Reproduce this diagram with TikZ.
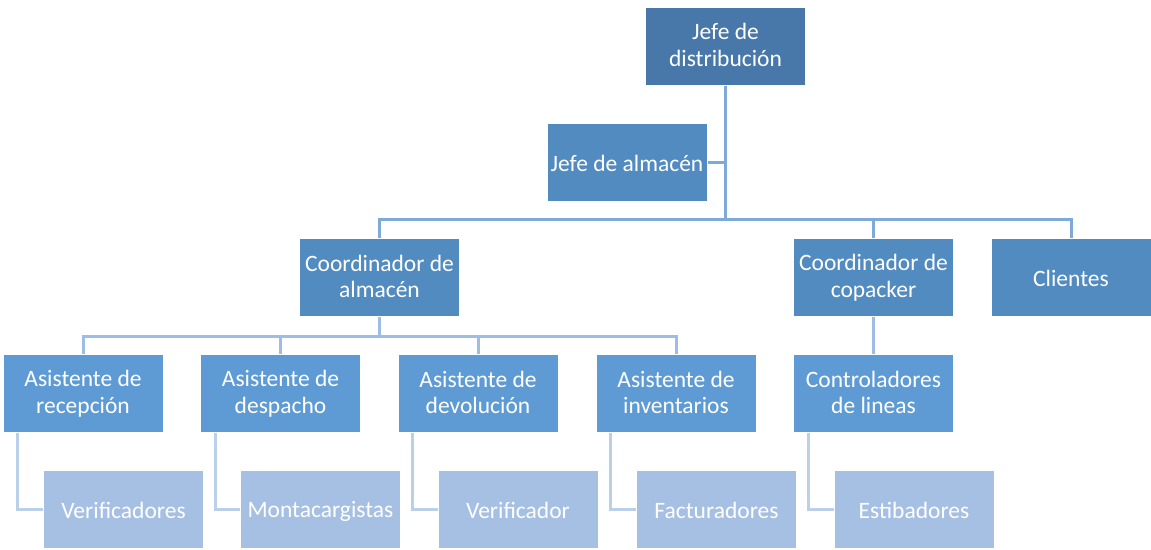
\documentclass[tikz,border=0pt]{standalone}
\usepackage{fontspec}
\setmainfont{Carlito}
\pgfdeclarelayer{bg}
\pgfsetlayers{bg,main}
\definecolor{cTop}{HTML}{4778A9}
\definecolor{cLvA}{HTML}{518BC0}
\definecolor{cLvB}{HTML}{5E9BD5}
\definecolor{cLvC}{HTML}{A5C0E3}
\definecolor{lnA}{HTML}{7EA9DB}
\definecolor{lnB}{HTML}{9DBDE6}
\definecolor{lnC}{HTML}{BACFEA}
\newcommand{\mystrut}{\rule[-2pt]{0pt}{22pt}}
\begin{document}
\begin{tikzpicture}[x=1pt,y=-1pt,
  boxbase/.style={rectangle, draw=white, line width=0.8pt, text=white, align=center,
    minimum width=160pt, minimum height=78pt, inner sep=1pt,
    font=\fontsize{23.5}{26.5}\selectfont,
    execute at begin node=\mystrut, execute at end node=\mystrut},
  toprole/.style={boxbase, fill=cTop},
  lvla/.style={boxbase, fill=cLvA},
  lvlb/.style={boxbase, fill=cLvB},
  lvlc/.style={boxbase, fill=cLvC},
  conna/.style={draw=lnA, line width=3pt},
  connb/.style={draw=lnB, line width=3pt},
  connc/.style={draw=lnC, line width=3pt}]
\useasboundingbox (0,0) rectangle (1151,549);
% nodes
\node[toprole] (top) at (725.5,46) {Jefe de\\distribución};
\node[lvla] (jalm) at (627,162) {Jefe de almacén};
\node[lvla] (calm) at (379.5,277.5) {Coordinador de\\almacén};
\node[lvla] (ccop) at (873.5,277.5) {Coordinador de\\copacker};
\node[lvla] (cli) at (1071,277.5) {Clientes};
\node[lvlb] (a1) at (83,393.5) {Asistente de\\recepción};
\node[lvlb] (a2) at (280.5,393.5) {Asistente de\\despacho};
\node[lvlb] (a3) at (478,393.5) {Asistente de\\devolución};
\node[lvlb] (a4) at (676,393.5) {Asistente de\\inventarios};
\node[lvlb] (ctl) at (873.5,393.5) {Controladores\\de lineas};
\node[lvlc] (v1) at (123.5,509.5) {Verificadores};
\node[lvlc] (v2) at (320.5,509.5) {Montacargistas};
\node[lvlc] (v3) at (518,509.5) {Verificador};
\node[lvlc] (v4) at (716.5,509.5) {Facturadores};
\node[lvlc] (v5) at (914,509.5) {Estibadores};
\coordinate (busa) at (0,219.5);
\coordinate (busb) at (0,336.5);
\begin{pgfonlayer}{bg}
\draw[conna] (top.south) -- (top.south |- busa);
\draw[conna] (jalm.east) -- (jalm.east -| top.south);
\draw[conna] (calm.north) -- (calm.north |- busa) -- (cli.north |- busa) -- (cli.north);
\draw[conna] (ccop.north) -- (ccop.north |- busa);
\draw[connb] (calm.south) -- (calm.south |- busb);
\draw[connb] (a1.north) -- (a1.north |- busb) -- (a4.north |- busb) -- (a4.north);
\draw[connb] (a2.north) -- (a2.north |- busb);
\draw[connb] (a3.north) -- (a3.north |- busb);
\draw[connb] (ccop.south) -- (ctl.north);
\draw[connc] ([xshift=15pt]a1.south west) |- (v1.west);
\draw[connc] ([xshift=15pt]a2.south west) |- (v2.west);
\draw[connc] ([xshift=15pt]a3.south west) |- (v3.west);
\draw[connc] ([xshift=15pt]a4.south west) |- (v4.west);
\draw[connc] ([xshift=15pt]ctl.south west) |- (v5.west);
\end{pgfonlayer}
\end{tikzpicture}
\end{document}
